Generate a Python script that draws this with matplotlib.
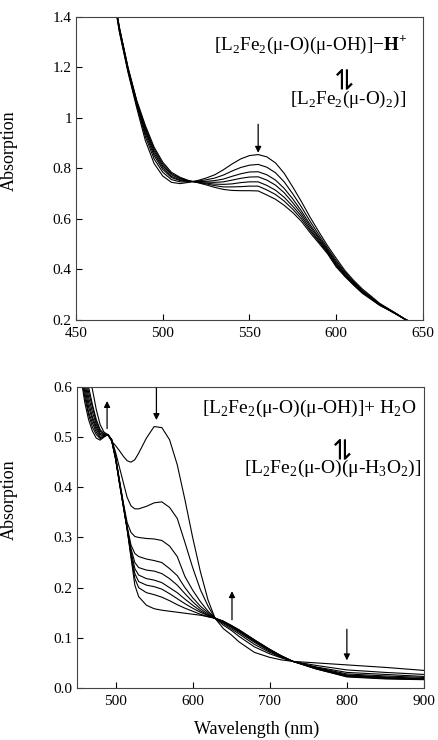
import matplotlib
matplotlib.use("Agg")
import matplotlib.pyplot as plt

plt.rcParams['font.family'] = ['Liberation Serif', 'DejaVu Serif']
plt.rcParams['mathtext.fontset'] = 'custom'
plt.rcParams['mathtext.rm'] = 'Liberation Serif'
plt.rcParams['mathtext.bf'] = 'Liberation Serif:bold'

# --- top panel: protonation equilibrium (7 spectra) ---
top_wl = [470, 475, 480, 485, 490, 495, 500, 505, 510, 515, 520, 525, 530, 535, 540,
          545, 550, 555, 560, 565, 570, 575, 580, 585, 590, 595, 600, 605, 610, 615,
          620, 625, 630, 635, 640, 645, 650]
top_a0 = [1.55, 1.34, 1.18, 1.04, 0.91, 0.82, 0.77, 0.745, 0.740, 0.745, 0.752, 0.762, 0.775, 0.795, 0.818,
          0.838, 0.851, 0.855, 0.846, 0.822, 0.781, 0.726, 0.668, 0.606, 0.549, 0.494, 0.444, 0.396, 0.357, 0.323,
          0.295, 0.266, 0.245, 0.224, 0.202, 0.185, 0.170]
top_a1 = [1.553, 1.345, 1.185, 1.048, 0.926, 0.838, 0.785, 0.756, 0.747, 0.747, 0.750, 0.755, 0.762, 0.774, 0.790,
          0.804, 0.813, 0.816, 0.805, 0.783, 0.747, 0.699, 0.647, 0.590, 0.537, 0.485, 0.435, 0.390, 0.352, 0.318,
          0.291, 0.264, 0.244, 0.223, 0.202, 0.185, 0.170]
top_a2 = [1.555, 1.349, 1.189, 1.054, 0.938, 0.851, 0.796, 0.764, 0.752, 0.748, 0.748, 0.749, 0.752, 0.758, 0.769,
          0.779, 0.786, 0.787, 0.775, 0.754, 0.721, 0.679, 0.631, 0.577, 0.528, 0.479, 0.428, 0.385, 0.348, 0.315,
          0.289, 0.262, 0.243, 0.223, 0.202, 0.185, 0.170]
top_a3 = [1.556, 1.352, 1.192, 1.058, 0.947, 0.860, 0.804, 0.769, 0.755, 0.749, 0.747, 0.746, 0.745, 0.747, 0.754,
          0.761, 0.766, 0.767, 0.754, 0.734, 0.704, 0.664, 0.620, 0.569, 0.522, 0.474, 0.423, 0.381, 0.345, 0.313,
          0.287, 0.261, 0.242, 0.222, 0.201, 0.185, 0.170]
top_a4 = [1.558, 1.355, 1.195, 1.063, 0.955, 0.869, 0.811, 0.775, 0.759, 0.750, 0.746, 0.742, 0.738, 0.737, 0.739,
          0.744, 0.747, 0.747, 0.733, 0.714, 0.686, 0.650, 0.610, 0.560, 0.515, 0.470, 0.419, 0.378, 0.343, 0.310,
          0.285, 0.260, 0.241, 0.222, 0.201, 0.185, 0.170]
top_a5 = [1.559, 1.357, 1.197, 1.066, 0.962, 0.877, 0.818, 0.780, 0.762, 0.751, 0.745, 0.739, 0.732, 0.727, 0.727,
          0.728, 0.730, 0.730, 0.715, 0.697, 0.671, 0.638, 0.600, 0.553, 0.510, 0.466, 0.414, 0.375, 0.340, 0.308,
          0.284, 0.259, 0.241, 0.221, 0.201, 0.185, 0.170]
top_a6 = [1.56, 1.36, 1.20, 1.07, 0.97, 0.885, 0.825, 0.785, 0.765, 0.752, 0.744, 0.735, 0.725, 0.717, 0.713,
          0.712, 0.712, 0.711, 0.695, 0.678, 0.654, 0.625, 0.590, 0.545, 0.504, 0.462, 0.410, 0.372, 0.338, 0.306,
          0.282, 0.258, 0.240, 0.221, 0.201, 0.185, 0.170]

# --- bottom panel: water addition (9 spectra) ---
bot_wl = [455, 460, 465, 470, 475, 480, 485, 490, 495, 500, 505, 510, 515, 520, 525, 530, 540, 550, 560,
          570, 580, 590, 600, 610, 620, 629, 640, 650, 660, 680, 700, 715, 730, 760, 800, 850, 900]
bot_a0 = [0.72, 0.67, 0.625, 0.595, 0.555, 0.525, 0.510, 0.505, 0.492, 0.483, 0.473, 0.462, 0.453, 0.450, 0.455, 0.468, 0.498, 0.521, 0.519,
          0.495, 0.445, 0.375, 0.300, 0.232, 0.175, 0.139, 0.118, 0.106, 0.092, 0.071, 0.061, 0.056, 0.053, 0.050, 0.046, 0.041, 0.035]
bot_a1 = [0.70, 0.64, 0.60, 0.565, 0.535, 0.515, 0.507, 0.505, 0.495, 0.470, 0.440, 0.410, 0.380, 0.363, 0.357, 0.357, 0.362, 0.369, 0.371,
          0.360, 0.338, 0.290, 0.240, 0.196, 0.163, 0.139, 0.125, 0.115, 0.103, 0.082, 0.068, 0.060, 0.053, 0.045, 0.036, 0.031, 0.027]
bot_a2 = [0.68, 0.63, 0.59, 0.56, 0.53, 0.512, 0.506, 0.505, 0.495, 0.462, 0.415, 0.370, 0.330, 0.310, 0.302, 0.300, 0.298, 0.297, 0.294,
          0.283, 0.262, 0.222, 0.195, 0.172, 0.153, 0.139, 0.128, 0.118, 0.108, 0.087, 0.071, 0.061, 0.053, 0.042, 0.031, 0.027, 0.023]
bot_a3 = [0.67, 0.62, 0.58, 0.55, 0.525, 0.508, 0.505, 0.505, 0.495, 0.461, 0.413, 0.367, 0.322, 0.285, 0.268, 0.262, 0.257, 0.254, 0.250,
          0.238, 0.224, 0.200, 0.180, 0.163, 0.150, 0.139, 0.130, 0.121, 0.111, 0.091, 0.073, 0.062, 0.053, 0.041, 0.028, 0.024, 0.021]
bot_a4 = [0.66, 0.61, 0.57, 0.54, 0.52, 0.505, 0.504, 0.505, 0.494, 0.460, 0.412, 0.366, 0.320, 0.278, 0.250, 0.240, 0.235, 0.233, 0.228,
          0.218, 0.205, 0.188, 0.172, 0.158, 0.147, 0.139, 0.131, 0.122, 0.113, 0.093, 0.075, 0.063, 0.053, 0.040, 0.026, 0.022, 0.019]
bot_a5 = [0.65, 0.60, 0.56, 0.535, 0.515, 0.502, 0.503, 0.505, 0.494, 0.459, 0.411, 0.365, 0.319, 0.272, 0.238, 0.225, 0.218, 0.215, 0.210,
          0.200, 0.190, 0.177, 0.165, 0.154, 0.145, 0.139, 0.132, 0.123, 0.114, 0.094, 0.076, 0.063, 0.053, 0.039, 0.025, 0.021, 0.018]
bot_a6 = [0.64, 0.59, 0.55, 0.528, 0.51, 0.499, 0.502, 0.505, 0.493, 0.458, 0.410, 0.364, 0.318, 0.268, 0.228, 0.212, 0.205, 0.202, 0.197,
          0.188, 0.178, 0.168, 0.159, 0.151, 0.144, 0.139, 0.132, 0.124, 0.115, 0.095, 0.076, 0.064, 0.053, 0.039, 0.024, 0.020, 0.017]
bot_a7 = [0.63, 0.58, 0.545, 0.52, 0.505, 0.497, 0.501, 0.505, 0.493, 0.457, 0.409, 0.363, 0.317, 0.264, 0.218, 0.200, 0.190, 0.186, 0.181,
          0.174, 0.166, 0.159, 0.153, 0.147, 0.142, 0.139, 0.133, 0.124, 0.116, 0.096, 0.077, 0.064, 0.053, 0.038, 0.023, 0.019, 0.017]
bot_a8 = [0.62, 0.57, 0.535, 0.512, 0.498, 0.494, 0.500, 0.505, 0.492, 0.456, 0.408, 0.362, 0.316, 0.260, 0.205, 0.182, 0.165, 0.158, 0.155,
          0.153, 0.151, 0.149, 0.147, 0.145, 0.142, 0.139, 0.133, 0.125, 0.116, 0.096, 0.077, 0.064, 0.053, 0.038, 0.022, 0.018, 0.0165]

top_xticks = [450, 500, 550, 600, 650]
top_yticks = [0.2, 0.4, 0.6, 0.8, 1.0, 1.2, 1.4]
top_yticklabels = ['0.2', '0.4', '0.6', '0.8', '1', '1.2', '1.4']
bot_xticks = [500, 600, 700, 800, 900]
bot_yticks = [0.0, 0.1, 0.2, 0.3, 0.4, 0.5, 0.6]
bot_yticklabels = ['0.0', '0.1', '0.2', '0.3', '0.4', '0.5', '0.6']

fig = plt.figure(figsize=(4.38, 7.40), dpi=100)
ax1 = fig.add_axes([0.1735, 0.5676, 0.7922, 0.4095])
ax2 = fig.add_axes([0.1758, 0.0703, 0.7922, 0.4068])


def style_axes(ax):
    for sp in ax.spines.values():
        sp.set_linewidth(0.8)
        sp.set_color('#444444')
    ax.tick_params(direction='in', length=4, width=0.8, labelsize=11)
    ax.tick_params(axis='x', pad=5)
    ax.tick_params(axis='y', pad=3)


for a in [top_a0, top_a1, top_a2, top_a3, top_a4, top_a5, top_a6]:
    ax1.plot(top_wl, a, color='black', lw=0.8)
ax1.set_xlim(450, 650)
ax1.set_ylim(0.2, 1.4)
ax1.set_xticks(top_xticks)
ax1.set_yticks(top_yticks)
ax1.set_yticklabels(top_yticklabels)
ax1.set_ylabel('Absorption', fontsize=13)
ax1.yaxis.set_label_coords(-0.167, 0.56)
style_axes(ax1)

arrow = dict(arrowstyle='-|>', lw=0.9, color='black', mutation_scale=9, shrinkA=0, shrinkB=0)
ax1.annotate('', xy=(555, 0.862), xytext=(555, 0.975), arrowprops=arrow)
ax1.text(641, 1.29, '[L$_\\mathrm{2}$Fe$_\\mathrm{2}$(μ-O)(μ-OH)]\u2212$\\mathbf{H}^\\mathbf{+}$',
         ha='right', va='center', fontsize=13.8)
ax1.text(605, 1.16, '\u21cc', rotation=90, ha='center', va='center', fontsize=20,
         family=['DejaVu Sans'])
ax1.text(640, 1.075, '[L$_\\mathrm{2}$Fe$_\\mathrm{2}$(μ-O)$_\\mathrm{2}$)]',
         ha='right', va='center', fontsize=13.8)

for a in [bot_a0, bot_a1, bot_a2, bot_a3, bot_a4, bot_a5, bot_a6, bot_a7, bot_a8]:
    ax2.plot(bot_wl, a, color='black', lw=0.8)
ax2.set_xlim(450, 900)
ax2.set_ylim(0.0, 0.6)
ax2.set_xticks(bot_xticks)
ax2.set_yticks(bot_yticks)
ax2.set_yticklabels(bot_yticklabels)
ax2.set_ylabel('Absorption', fontsize=13)
ax2.yaxis.set_label_coords(-0.17, 0.625)
ax2.set_xlabel('Wavelength (nm)', fontsize=13)
ax2.xaxis.set_label_coords(0.519, -0.11)
style_axes(ax2)

ax2.annotate('', xy=(489, 0.572), xytext=(489, 0.517), arrowprops=arrow)
ax2.annotate('', xy=(553, 0.534), xytext=(553, 0.598), arrowprops=arrow)
ax2.annotate('', xy=(651, 0.193), xytext=(651, 0.136), arrowprops=arrow)
ax2.annotate('', xy=(800, 0.055), xytext=(800, 0.117), arrowprops=arrow)
ax2.text(890, 0.557, '[L$_\\mathrm{2}$Fe$_\\mathrm{2}$(μ-O)(μ-OH)]+ H$_\\mathrm{2}$O',
         ha='right', va='center', fontsize=14)
ax2.text(795, 0.48, '\u21cc', rotation=90, ha='center', va='center', fontsize=20,
         family=['DejaVu Sans'])
ax2.text(897, 0.438, '[L$_\\mathrm{2}$Fe$_\\mathrm{2}$(μ-O)(μ-H$_\\mathrm{3}$O$_\\mathrm{2}$)]',
         ha='right', va='center', fontsize=14)

fig.savefig('out.png', dpi=100)
plt.close(fig)
